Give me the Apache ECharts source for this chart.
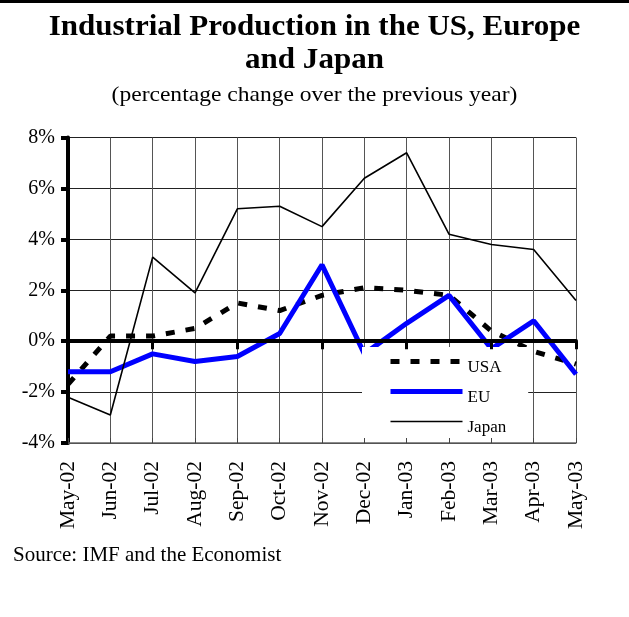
<!DOCTYPE html>
<html>
<head>
<meta charset="utf-8">
<script src="https://cdn.jsdelivr.net/npm/echarts@6/dist/echarts.min.js"></script>
<style>
    html, body { margin: 0; padding: 0; background: #fff; }
    #main { width: 629px; height: 617px; }
</style>
</head>
<body>
<div id="main"></div>
<script>
// months on the category axis
const months = ["May-02", "Jun-02", "Jul-02", "Aug-02", "Sep-02", "Oct-02", "Nov-02",
    "Dec-02", "Jan-03", "Feb-03", "Mar-03", "Apr-03", "May-03"];
// % change over previous year
const usa = [-1.7, 0.2, 0.2, 0.5, 1.5, 1.2, 1.8, 2.1, 2.0, 1.8, 0.4, -0.4, -0.9];
const eu = [-1.2, -1.2, -0.5, -0.8, -0.6, 0.3, 3.0, -0.5, 0.7, 1.8, -0.3, 0.8, -1.3];
const japan = [-2.2, -2.9, 3.3, 1.9, 5.2, 5.3, 4.5, 6.4, 7.4, 4.2, 3.8, 3.6, 1.6];
const yMin = -4, yMax = 8, yStep = 2;

const serif = "Liberation Serif";
const chart = echarts.init(document.getElementById("main"));

// centred, slightly widened title text
function titleText(text, y, font) {
    return {
        type: "text",
        x: 314.5,
        y: y,
        scaleX: 1.07,
        style: { text: text, font: font, fill: "#000", align: "center", verticalAlign: "middle" },
    };
}

const option = {
    animation: false,
    backgroundColor: "#fff",
    graphic: [
        {
            type: "rect",
            shape: { x: 0, y: 0, width: 629, height: 3 },
            style: { fill: "#000" },
        },
        titleText("Industrial Production in the US, Europe", 28, "bold 29px " + serif),
        titleText("and Japan", 61, "bold 29px " + serif),
        titleText("(percentage change over the previous year)", 95, "22px " + serif),
        {
            type: "text",
            x: 13,
            y: 555,
            style: { text: "Source: IMF and the Economist", font: "21px " + serif, fill: "#000", verticalAlign: "middle" },
        },
    ],
    legend: {
        orient: "vertical",
        left: 362,
        top: 347,
        padding: [0, 22, 2, 26],
        backgroundColor: "#fff",
        itemWidth: 72,
        itemHeight: 14,
        itemGap: 1,
        itemStyle: { opacity: 0 },
        // empty first line pushes the name a little below its line sample
        formatter: "\n{name}",
        textStyle: { fontFamily: serif, fontSize: 17, lineHeight: 12, color: "#000" },
        data: [
            { name: "USA", lineStyle: { width: 5 } },
            { name: "EU", lineStyle: { width: 5 } },
            { name: "Japan", lineStyle: { width: 1.6 } },
        ],
    },
    grid: { left: 68, right: 53, top: 137.5, bottom: 174 },
    xAxis: [
        {
            type: "category",
            data: months,
            position: "bottom",
            boundaryGap: false,
            axisLine: { onZero: false, lineStyle: { color: "#666", width: 1.5 } },
            axisTick: { inside: true, length: 5, lineStyle: { color: "#444", width: 1 } },
            axisLabel: { rotate: 90, fontFamily: serif, fontSize: 21.5, color: "#000", margin: 18 },
            splitLine: { show: true, lineStyle: { color: "#555", width: 1 } },
        },
        {
            type: "category",
            data: months,
            position: "top",
            boundaryGap: false,
            axisLine: { onZero: true, lineStyle: { color: "#000", width: 4 } },
            axisTick: { inside: true, length: 8, lineStyle: { color: "#000", width: 3 } },
            axisLabel: { show: false },
            splitLine: { show: false },
            z: 5,
        },
    ],
    yAxis: {
        type: "value",
        min: yMin,
        max: yMax,
        interval: yStep,
        axisLine: { show: true, onZero: false, lineStyle: { color: "#000", width: 4 } },
        axisTick: { show: true, length: 7, lineStyle: { color: "#000", width: 4 } },
        axisLabel: {
            formatter: "{value}%", fontFamily: serif, fontSize: 20, color: "#000",
            margin: 13, padding: [8, 0, 0, 0],
        },
        splitLine: { lineStyle: { color: "#222", width: 1 } },
    },
    series: [
        {
            name: "USA",
            type: "line",
            data: usa,
            symbol: "none",
            lineStyle: { color: "#000", width: 5, type: [9, 11] },
            itemStyle: { color: "#000" },
        },
        {
            name: "EU",
            type: "line",
            data: eu,
            symbol: "none",
            lineStyle: { color: "#0000ff", width: 5 },
            itemStyle: { color: "#0000ff" },
        },
        {
            name: "Japan",
            type: "line",
            data: japan,
            symbol: "none",
            lineStyle: { color: "#000", width: 1.6 },
            itemStyle: { color: "#000" },
        },
    ],
};

chart.setOption(option);
</script>
</body>
</html>
